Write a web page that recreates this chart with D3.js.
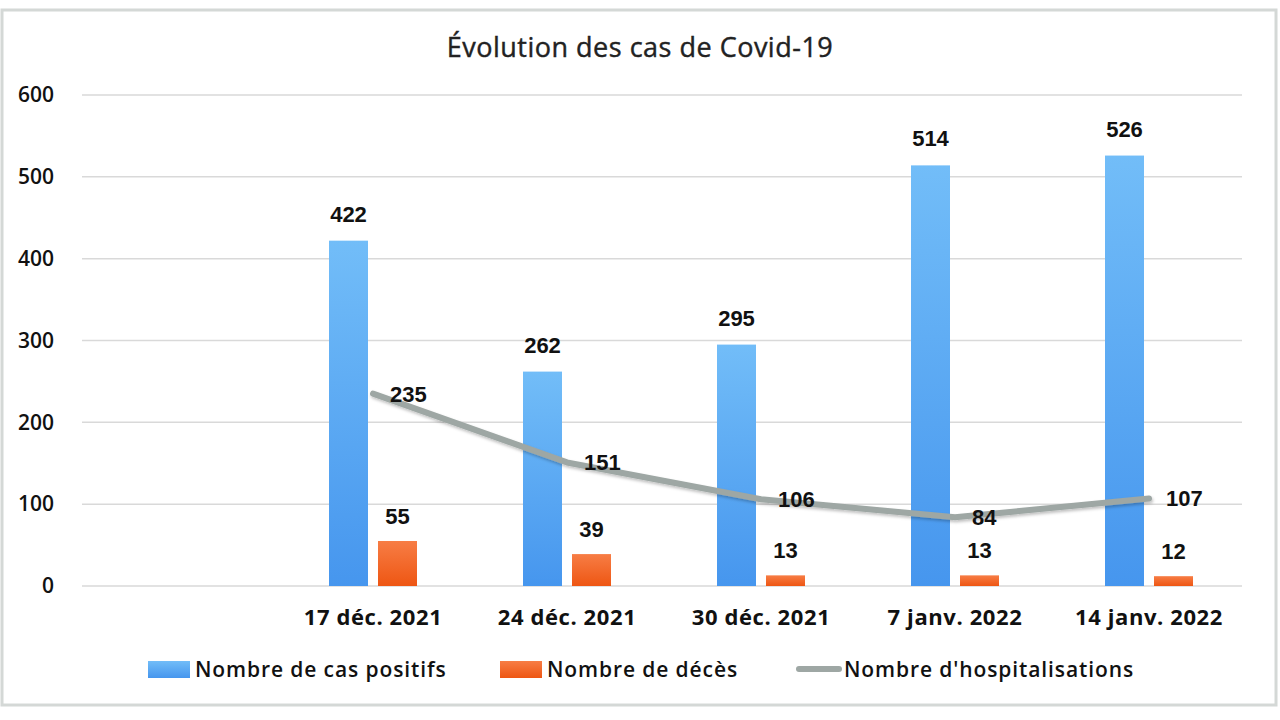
<!DOCTYPE html>
<html><head><meta charset="utf-8">
<script src="https://cdn.jsdelivr.net/npm/d3@7"></script>
<style>html,body{margin:0;padding:0;background:#fff;}svg{display:block;}</style>
</head><body><svg id="c" width="1280" height="720"></svg>
<script>
const categories = ["", "17 déc. 2021", "24 déc. 2021", "30 déc. 2021", "7 janv. 2022", "14 janv. 2022"];
const cases = [null, 422, 262, 295, 514, 526];
const deaths = [null, 55, 39, 13, 13, 12];
const hosp = [null, 235, 151, 106, 84, 107];
const yTicks = [0, 100, 200, 300, 400, 500, 600];
const seriesNames = ["Nombre de cas positifs", "Nombre de décès", "Nombre d'hospitalisations"];
const title = "Évolution des cas de Covid-19";

const svg = d3.select("#c");
const m = {l: 82, r: 1246, t: 95, b: 586};

const defs = svg.append("defs");
const gb = defs.append("linearGradient").attr("id","gBlue").attr("x1",0).attr("y1",0).attr("x2",0).attr("y2",1);
gb.append("stop").attr("offset","0%").attr("stop-color","#72bdf8");
gb.append("stop").attr("offset","100%").attr("stop-color","#4696ee");
const go = defs.append("linearGradient").attr("id","gOrange").attr("x1",0).attr("y1",0).attr("x2",0).attr("y2",1);
go.append("stop").attr("offset","0%").attr("stop-color","#f77d45");
go.append("stop").attr("offset","100%").attr("stop-color","#ee5613");
const f = defs.append("filter").attr("id","sh").attr("x","-10%").attr("y","-50%").attr("width","120%").attr("height","200%");
f.append("feDropShadow").attr("dx",1).attr("dy",2).attr("stdDeviation",1.5).attr("flood-color","#000").attr("flood-opacity",0.25);

// frame
svg.append("rect").attr("x",2).attr("y",10).attr("width",1274).attr("height",695)
  .attr("fill","#fff").attr("stroke","#d4d8d6").attr("stroke-width",3);

const x = d3.scaleBand().domain(d3.range(categories.length)).range([m.l, m.r]).paddingInner(0).paddingOuter(0);
const y = d3.scaleLinear().domain([0, 600]).range([m.b, m.t]);

// gridlines
svg.append("g").selectAll("line").data(yTicks).join("line")
  .attr("x1", m.l).attr("x2", m.r - 4).attr("y1", d => y(d)).attr("y2", d => y(d))
  .attr("stroke", "#d9d9d9").attr("stroke-width", 1.5);

// y axis labels
const yAxis = d3.axisLeft(y).tickValues(yTicks).tickSize(0).tickPadding(0);
const ya = svg.append("g").attr("transform", `translate(54,0)`).call(yAxis);
ya.select(".domain").remove();
ya.selectAll("text").attr("font-family","'Open Sans',sans-serif").attr("font-size",21).attr("font-weight",600).attr("fill","#111");

const bw = 39, gap = 10;
const cx = i => x(i) + x.bandwidth()/2;

const idx = d3.range(categories.length).filter(i => cases[i] != null);

// blue bars
svg.append("g").selectAll("rect").data(idx).join("rect")
  .attr("x", i => cx(i) - gap/2 - bw).attr("width", bw)
  .attr("y", i => y(cases[i])).attr("height", i => y(0) - y(cases[i]))
  .attr("fill","url(#gBlue)");
// orange bars
svg.append("g").selectAll("rect").data(idx).join("rect")
  .attr("x", i => cx(i) + gap/2).attr("width", bw)
  .attr("y", i => y(deaths[i])).attr("height", i => y(0) - y(deaths[i]))
  .attr("fill","url(#gOrange)");

// line
const line = d3.line().x(i => cx(i)).y(i => y(hosp[i]));
svg.append("path").datum(idx).attr("d", line).attr("fill","none")
  .attr("stroke","#9ea7a4").attr("stroke-width",6).attr("stroke-linecap","round").attr("stroke-linejoin","round").attr("filter","url(#sh)");

const lblFont = "'Liberation Sans',Arial,sans-serif";
// labels
svg.append("g").selectAll("text").data(idx).join("text")
  .attr("x", i => cx(i) - gap/2 - bw/2).attr("y", i => y(cases[i]) - 19)
  .attr("text-anchor","middle").attr("font-family",lblFont).attr("font-weight","bold").attr("font-size",22).attr("fill","#111")
  .text(i => cases[i]);
svg.append("g").selectAll("text").data(idx).join("text")
  .attr("x", i => cx(i) + gap/2 + bw/2).attr("y", i => y(deaths[i]) - 17)
  .attr("text-anchor","middle").attr("font-family",lblFont).attr("font-weight","bold").attr("font-size",22).attr("fill","#111")
  .text(i => deaths[i]);
svg.append("g").selectAll("text").data(idx).join("text")
  .attr("x", i => cx(i) + 17).attr("y", i => y(hosp[i]) + 8)
  .attr("text-anchor","start").attr("font-family",lblFont).attr("font-weight","bold").attr("font-size",22).attr("fill","#111")
  .text(i => hosp[i]);

// x axis labels
const xa = svg.append("g").attr("transform",`translate(0,${m.b + 23})`)
  .call(d3.axisBottom(x).tickFormat(i => categories[i]).tickSize(0).tickPadding(0));
xa.select(".domain").remove();
xa.selectAll("text").attr("dy","0.71em").attr("font-family","'Open Sans',sans-serif").attr("font-weight",700).attr("font-size",22).attr("letter-spacing",0.6).attr("fill","#111");

// title
svg.append("text").attr("x", 640).attr("y", 57).attr("text-anchor","middle")
  .attr("font-family","'Open Sans',sans-serif").attr("font-size",27).attr("font-weight",400).attr("letter-spacing",0.5)
  .attr("fill","#222").attr("stroke","#222").attr("stroke-width",0.4)
  .text(title);

// legend
const lg = svg.append("g").attr("font-family","'Open Sans',sans-serif").attr("font-size",21).attr("font-weight",600).attr("letter-spacing",0.9).attr("fill","#111");
const legendItems = [
  {x:148, type:"rect", fill:"url(#gBlue)"},
  {x:500, type:"rect", fill:"url(#gOrange)"},
  {x:797, type:"line", fill:"#9ea7a4"}
];
legendItems.forEach((d, k) => {
  if (d.type === "rect") lg.append("rect").attr("x", d.x).attr("y", 661).attr("width", 42).attr("height", 17).attr("fill", d.fill);
  else lg.append("line").attr("x1", d.x+2).attr("x2", d.x+42).attr("y1", 669).attr("y2", 669).attr("stroke", d.fill).attr("stroke-width",6).attr("stroke-linecap","round");
  lg.append("text").attr("x", d.x + 47).attr("y", 677).text(seriesNames[k]);
});
</script></body></html>
